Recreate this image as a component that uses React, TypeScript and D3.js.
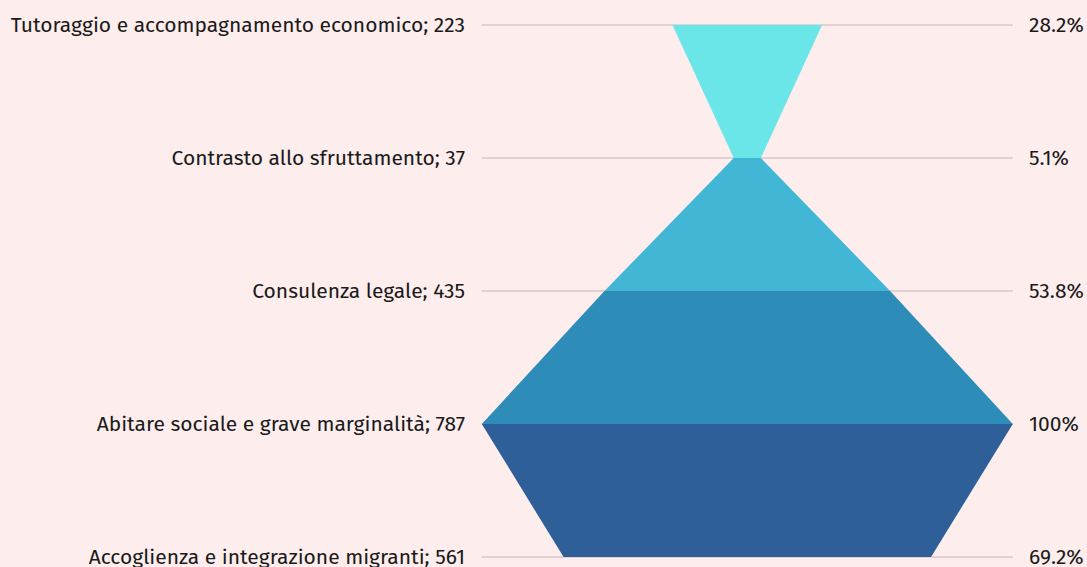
import { useEffect, useRef } from 'react';
import * as d3 from 'd3';

// categorie (dall'alto verso il basso) e valori
const categories = [
  'Tutoraggio e accompagnamento economico',
  'Contrasto allo sfruttamento',
  'Consulenza legale',
  'Abitare sociale e grave marginalità',
  'Accoglienza e integrazione migranti',
];
const values = [223, 37, 435, 787, 561];
const percents = [28.2, 5.1, 53.8, 100, 69.2];
const percentLabels = ['28.2%', '5.1%', '53.8%', '100%', '69.2%'];
const bandColors = ['#6be6e8', '#42b7d5', '#2e8cb9', '#2e5f99'];

const W = 1087;
const H = 567;

export default function App() {
  const svgRef = useRef<SVGSVGElement | null>(null);

  useEffect(() => {
    const svg = d3.select(svgRef.current);
    svg.selectAll('*').remove();

    const cx = 747.3;
    const maxHalf = 265.5;
    const y = d3.scalePoint<string>().domain(categories).range([25, 557]);
    const w = d3.scaleLinear().domain([0, 100]).range([0, maxHalf]);

    svg.append('rect').attr('width', W).attr('height', H).attr('fill', '#fdeded');

    // linee guida
    svg.append('g')
      .selectAll('line')
      .data(categories)
      .join('line')
      .attr('x1', cx - maxHalf)
      .attr('x2', cx + maxHalf)
      .attr('y1', d => y(d)!)
      .attr('y2', d => y(d)!)
      .attr('stroke', '#c9b6b8')
      .attr('stroke-width', 1);

    // bande tra righe consecutive
    const bands = d3.range(categories.length - 1);
    svg.append('g')
      .selectAll('path')
      .data(bands)
      .join('path')
      .attr('fill', (_, i) => bandColors[i])
      .attr('d', i => {
        const y0 = y(categories[i])!;
        const y1 = y(categories[i + 1])!;
        const a = w(percents[i]);
        const b = w(percents[i + 1]);
        return `M${cx - a},${y0}L${cx + a},${y0}L${cx + b},${y1}L${cx - b},${y1}Z`;
      });

    const font = "'Fira Sans', 'Noto Sans', sans-serif";

    svg.append('g')
      .selectAll('text')
      .data(categories)
      .join('text')
      .attr('x', 465)
      .attr('y', d => y(d)!)
      .attr('dy', '0.35em')
      .attr('text-anchor', 'end')
      .attr('font-family', font)
      .attr('font-size', 21)
      .attr('fill', '#1a1a1a')
      .text((d, i) => `${d}; ${values[i]}`);

    svg.append('g')
      .selectAll('text')
      .data(categories)
      .join('text')
      .attr('x', 1029)
      .attr('y', d => y(d)!)
      .attr('dy', '0.35em')
      .attr('text-anchor', 'start')
      .attr('font-family', font)
      .attr('font-size', 21)
      .attr('fill', '#1a1a1a')
      .text((_, i) => percentLabels[i]);
  }, []);

  return (
    <svg
      ref={svgRef}
      width={W}
      height={H}
      style={{ position: 'absolute', left: 0, top: 0, display: 'block' }}
    />
  );
}
